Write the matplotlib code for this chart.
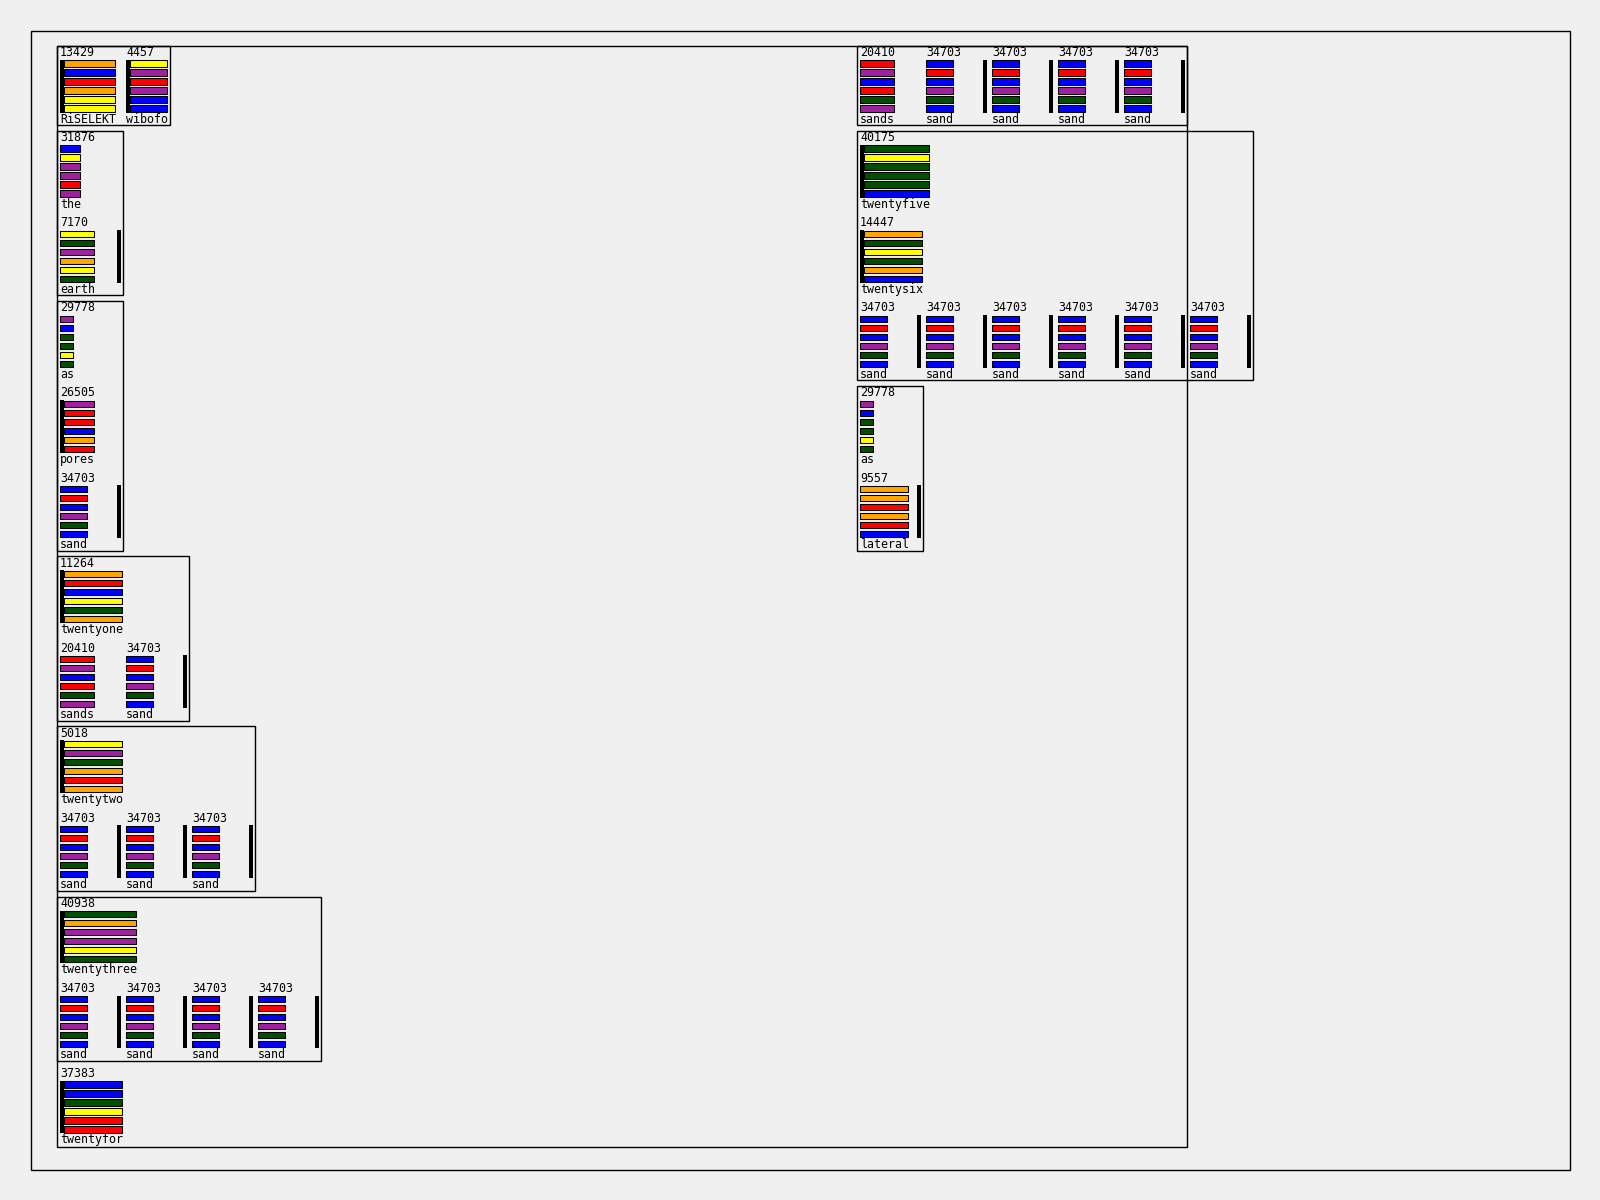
import matplotlib
matplotlib.use("Agg")
import matplotlib.pyplot as plt
from matplotlib.patches import Rectangle

# ---------------- data ----------------
item_numbers = [13429, 4457, 31876, 7170, 29778, 26505, 34703, 11264,
                20410, 5018, 40938, 37383, 40175, 14447, 9557]
item_labels = ["RiSELEKT", "wibofo", "the", "earth", "as", "pores", "sand",
               "twentyone", "sands", "twentytwo", "twentythree", "twentyfor",
               "twentyfive", "twentysix", "lateral"]
item_markers = ["left", "left", "none", "right", "none", "left", "right",
                "left", "none", "left", "left", "left", "left", "left", "right"]
item_colors = [
    ["orange", "blue", "red", "orange", "yellow", "yellow"],
    ["yellow", "purple", "red", "purple", "blue", "blue"],
    ["blue", "yellow", "purple", "purple", "red", "purple"],
    ["yellow", "green", "purple", "orange", "yellow", "green"],
    ["purple", "blue", "green", "green", "yellow", "green"],
    ["purple", "red", "red", "blue", "orange", "red"],
    ["blue", "red", "blue", "purple", "green", "blue"],
    ["orange", "red", "blue", "yellow", "green", "orange"],
    ["red", "purple", "blue", "red", "green", "purple"],
    ["yellow", "purple", "green", "orange", "red", "orange"],
    ["green", "orange", "purple", "purple", "yellow", "green"],
    ["blue", "blue", "green", "yellow", "red", "red"],
    ["green", "yellow", "green", "green", "green", "blue"],
    ["orange", "green", "yellow", "green", "orange", "blue"],
    ["orange", "orange", "red", "orange", "red", "blue"],
]

# layout structure: boxes of rows of item indices (boxed flag)
column_a = [
    ([[0, 1]], True),
    ([[2], [3]], True),
    ([[4], [5], [6]], True),
    ([[7], [8, 6]], True),
    ([[9], [6, 6, 6]], True),
    ([[10], [6, 6, 6, 6]], True),
    ([[11]], False),
]
column_b = [
    ([[8, 6, 6, 6, 6]], True),
    ([[12], [13], [6, 6, 6, 6, 6, 6]], True),
    ([[4], [14]], True),
]

# ---------------- styles ----------------
palette = {
    "orange": "#ffa500", "blue": "#0000ff", "red": "#ff0000",
    "yellow": "#ffff00", "purple": "#a020a0", "green": "#005000",
}
BG = "#f0f0f0"
FONT = dict(family="DejaVu Sans Mono", fontsize=8.4, color="black")

CHAR_W = 7.0
ITEM_H = 79.3
ROW_PITCH = 85.05
COL_PITCH = 66.0

fig = plt.figure(figsize=(16, 12), dpi=100, facecolor=BG)
ax = fig.add_axes([0, 0, 1, 1])
ax.set_xlim(0, 1600)
ax.set_ylim(1200, 0)
ax.axis("off")
ax.set_facecolor(BG)


def rect(x0, y0, x1, y1, **kw):
    ax.add_patch(Rectangle((x0, y0), x1 - x0, y1 - y0, **kw))


def item_width(idx):
    if item_markers[idx] == "right":
        return COL_PITCH
    n = max(len(item_labels[idx]), len(str(item_numbers[idx])))
    return CHAR_W * n + 4.7


def draw_item(idx, X, T):
    x0 = X + 2.7
    ax.text(x0, T + 6.8, str(item_numbers[idx]), ha="left", va="center", **FONT)
    ax.text(x0, T + 73.3, item_labels[idx], ha="left", va="center", **FONT)
    bar_top = T + 14.0
    bar_bot = T + 66.7
    xs = x0 + 0.4
    if item_markers[idx] == "left":
        rect(x0, bar_top, x0 + 3.6, bar_bot, facecolor="black", edgecolor="none")
        xs = x0 + 3.6
    xe = x0 + CHAR_W * len(item_labels[idx]) - 0.7
    for j, c in enumerate(item_colors[idx]):
        y = bar_top + 0.4 + j * 9.0
        rect(xs, y, xe, y + 6.5, facecolor=palette[c], edgecolor="black",
             linewidth=0.75)
    if item_markers[idx] == "right":
        rect(x0 + 57.0, bar_top, x0 + 60.7, bar_bot, facecolor="black",
             edgecolor="none")


def draw_column(boxes, X0, T0):
    T = T0
    for rows, boxed in boxes:
        right = X0
        for r, row in enumerate(rows):
            for k, idx in enumerate(row):
                X = X0 + k * COL_PITCH
                draw_item(idx, X, T + r * ROW_PITCH)
                right = max(right, X + item_width(idx))
        bottom = T + (len(rows) - 1) * ROW_PITCH + ITEM_H
        if boxed:
            rect(X0, T, right, bottom, facecolor="none", edgecolor="black",
                 linewidth=1.0)
        T = T + len(rows) * ROW_PITCH


# outer frame and main frame
rect(30.5, 30.5, 1569.5, 1169.5, facecolor="none", edgecolor="black", linewidth=1.0)
rect(57.3, 46.0, 1187.3, 1147.3, facecolor="none", edgecolor="black", linewidth=1.0)

draw_column(column_a, 57.3, 46.0)
draw_column(column_b, 857.3, 46.0)

fig.savefig("out.png", dpi=100, facecolor=BG)
